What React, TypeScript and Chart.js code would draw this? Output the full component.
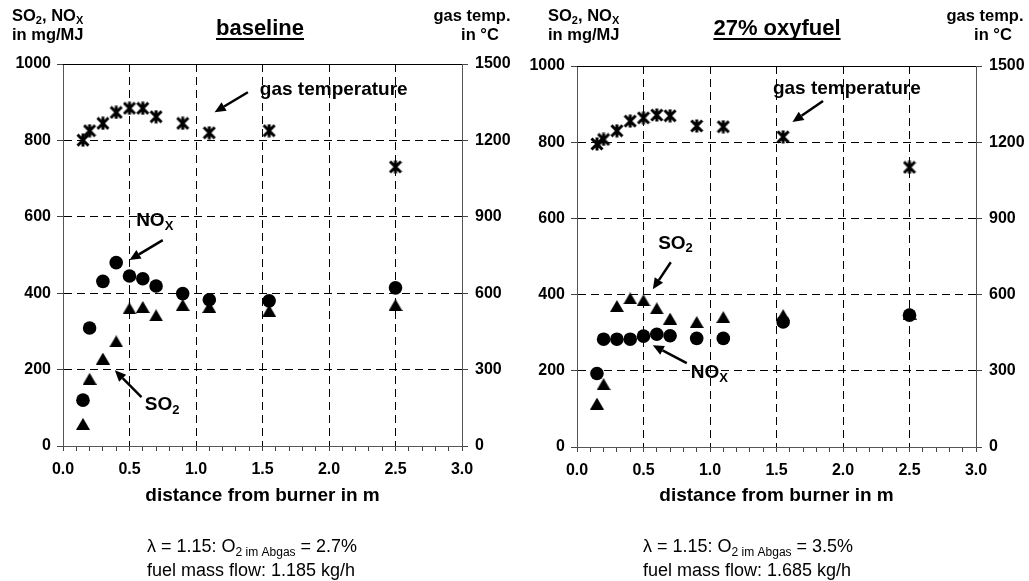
import React, { useEffect, useRef } from 'react';
import { Chart, registerables } from 'chart.js';
Chart.register(...registerables);

// ---------- data ----------
const distancesBaseline = [0.15, 0.2, 0.3, 0.4, 0.5, 0.6, 0.7, 0.9, 1.1, 1.55, 2.5];
const gasTempBaseline = [1201, 1238, 1267, 1310, 1326, 1326, 1293, 1267, 1230, 1238, 1096];
const noxBaseline = [120, 309, 431, 480, 445, 438, 419, 399, 383, 380, 414];
const so2Baseline = [58, 176, 229, 274, 360, 364, 342, 369, 364, 354, 369];

const distancesOxy = [0.15, 0.2, 0.3, 0.4, 0.5, 0.6, 0.7, 0.9, 1.1, 1.55, 2.5];
const gasTempOxy = [1193, 1211, 1245, 1283, 1296, 1307, 1304, 1264, 1261, 1221, 1101];
const noxOxy = [193, 283, 283, 283, 291, 296, 292, 285, 285, 328, 346];
const so2Oxy = [114, 165, 370, 390, 385, 364, 337, 328, 341, 346, 350];

const xTickMin = 0;
const xTickMax = 3;
const yLeftMax = 1000;
const yRightMax = 1500;

const FONT = '"Liberation Sans", Arial, Helvetica, sans-serif';

type Seg = { t: string; sub?: boolean };

function drawRich(
  ctx: CanvasRenderingContext2D,
  segs: Seg[],
  x: number,
  y: number,
  size: number,
  weight: string,
  family: string,
  align: 'left' | 'center' | 'right'
) {
  const main = `${weight} ${size}px ${family}`;
  const subSize = Math.round(size * 0.66);
  const subF = `${weight} ${subSize}px ${family}`;
  let total = 0;
  const widths = segs.map((s) => {
    ctx.font = s.sub ? subF : main;
    const w = ctx.measureText(s.t).width;
    total += w;
    return w;
  });
  let cx = align === 'left' ? x : align === 'center' ? x - total / 2 : x - total;
  const start = cx;
  ctx.textAlign = 'left';
  ctx.textBaseline = 'alphabetic';
  segs.forEach((s, i) => {
    ctx.font = s.sub ? subF : main;
    ctx.fillText(s.t, cx, s.sub ? y + size * 0.2 : y);
    cx += widths[i];
  });
  return { start, width: total };
}

function drawArrow(ctx: CanvasRenderingContext2D, x1: number, y1: number, x2: number, y2: number) {
  const ang = Math.atan2(y2 - y1, x2 - x1);
  const head = 11;
  const half = 5;
  const bx = x2 - Math.cos(ang) * head;
  const by = y2 - Math.sin(ang) * head;
  ctx.save();
  ctx.strokeStyle = '#000';
  ctx.fillStyle = '#000';
  ctx.lineWidth = 2.5;
  ctx.beginPath();
  ctx.moveTo(x1, y1);
  ctx.lineTo(bx, by);
  ctx.stroke();
  ctx.beginPath();
  ctx.moveTo(x2, y2);
  ctx.lineTo(bx + Math.sin(ang) * half, by - Math.cos(ang) * half);
  ctx.lineTo(bx - Math.sin(ang) * half, by + Math.cos(ang) * half);
  ctx.closePath();
  ctx.fill();
  ctx.restore();
}

function makeStar(): HTMLCanvasElement {
  const w = 14;
  const h = 14;
  const c = document.createElement('canvas');
  c.width = w;
  c.height = h;
  const g = c.getContext('2d')!;
  g.strokeStyle = '#000';
  g.lineWidth = 3;
  g.lineCap = 'butt';
  const m = 1.5;
  g.beginPath();
  g.moveTo(m, m);
  g.lineTo(w - m, h - m);
  g.moveTo(w - m, m);
  g.lineTo(m, h - m);
  g.moveTo(w / 2, 0.5);
  g.lineTo(w / 2, h - 0.5);
  g.stroke();
  return c;
}

function makeTriangle(): HTMLCanvasElement {
  const w = 14;
  const h = 12;
  const c = document.createElement('canvas');
  c.width = w;
  c.height = h;
  const g = c.getContext('2d')!;
  g.fillStyle = '#000';
  g.beginPath();
  g.moveTo(w / 2, 0);
  g.lineTo(w, h);
  g.lineTo(0, h);
  g.closePath();
  g.fill();
  return c;
}

type Annot = { segs: Seg[]; x: number; y: number; size: number };
type ArrowDef = { x1: number; y1: number; x2: number; y2: number };

interface PanelCfg {
  title: string;
  titleX: number;
  headerLeftX: number;
  gasX: number;
  inCX: number;
  area: { left: number; right: number; top: number; bottom: number };
  distances: number[];
  gasTemp: number[];
  nox: number[];
  so2: number[];
  texts: Annot[];
  arrows: ArrowDef[];
  bottomX: number;
  o2: string;
  flow: string;
}

const W = 514;
const H = 581;

const panels: PanelCfg[] = [
  {
    title: 'baseline',
    titleX: 260,
    headerLeftX: 12,
    gasX: 472,
    inCX: 480,
    area: { left: 63, right: 462, top: 64, bottom: 446 },
    distances: distancesBaseline,
    gasTemp: gasTempBaseline,
    nox: noxBaseline,
    so2: so2Baseline,
    texts: [
      { segs: [{ t: 'gas temperature' }], x: 1.48, y: 937, size: 19 },
      { segs: [{ t: 'NO' }, { t: 'X', sub: true }], x: 0.55, y: 594, size: 19 },
      { segs: [{ t: 'SO' }, { t: '2', sub: true }], x: 0.615, y: 112, size: 19 },
    ],
    arrows: [
      { x1: 1.39, y1: 926, x2: 1.14, y2: 874 },
      { x1: 0.75, y1: 539, x2: 0.5, y2: 487 },
      { x1: 0.59, y1: 128, x2: 0.39, y2: 198 },
    ],
    bottomX: 147,
    o2: '2.7%',
    flow: '1.185 kg/h',
  },
  {
    title: '27% oxyfuel',
    titleX: 262,
    headerLeftX: 33,
    gasX: 470,
    inCX: 478,
    area: { left: 62, right: 461, top: 66, bottom: 447 },
    distances: distancesOxy,
    gasTemp: gasTempOxy,
    nox: noxOxy,
    so2: so2Oxy,
    texts: [
      { segs: [{ t: 'gas temperature' }], x: 1.473, y: 945, size: 19 },
      { segs: [{ t: 'SO' }, { t: '2', sub: true }], x: 0.61, y: 538, size: 19 },
      { segs: [{ t: 'NO' }, { t: 'X', sub: true }], x: 0.855, y: 199, size: 19 },
    ],
    arrows: [
      { x1: 1.85, y1: 908, x2: 1.62, y2: 853 },
      { x1: 0.705, y1: 485, x2: 0.57, y2: 414 },
      { x1: 0.825, y1: 220, x2: 0.57, y2: 267 },
    ],
    bottomX: 128,
    o2: '3.5%',
    flow: '1.685 kg/h',
  },
];

function Panel({ cfg, offset }: { cfg: PanelCfg; offset: number }) {
  const ref = useRef<HTMLCanvasElement>(null);
  useEffect(() => {
    const star = makeStar();
    const tri = makeTriangle();
    const a = cfg.area;
    const decor = {
      id: 'decor' + offset,
      afterDraw(chart: any) {
        const ctx: CanvasRenderingContext2D = chart.ctx;
        const xs = chart.scales.x;
        const ys = chart.scales.y;
        const ca = chart.chartArea;
        ctx.save();
        ctx.fillStyle = '#000';
        // top border
        ctx.strokeStyle = '#000';
        ctx.lineWidth = 1;
        ctx.beginPath();
        ctx.moveTo(ca.left, Math.round(ca.top) + 0.5);
        ctx.lineTo(ca.right, Math.round(ca.top) + 0.5);
        ctx.stroke();
        // headers
        drawRich(ctx, [{ t: 'SO' }, { t: '2', sub: true }, { t: ', NO' }, { t: 'X', sub: true }], cfg.headerLeftX, 21, 16.5, 'bold', FONT, 'left');
        drawRich(ctx, [{ t: 'in mg/MJ' }], cfg.headerLeftX, 40, 16.5, 'bold', FONT, 'left');
        drawRich(ctx, [{ t: 'gas temp.' }], cfg.gasX, 21, 16.5, 'bold', FONT, 'center');
        drawRich(ctx, [{ t: 'in °C' }], cfg.inCX, 40, 16.5, 'bold', FONT, 'center');
        // title underlined
        const t = drawRich(ctx, [{ t: cfg.title }], cfg.titleX, 35, 22, 'bold', FONT, 'center');
        ctx.fillRect(t.start, 38, t.width, 2);
        // annotations
        cfg.texts.forEach((an) => {
          const px = xs.getPixelForValue(an.x);
          const py = ys.getPixelForValue(an.y) + an.size * 0.35;
          drawRich(ctx, an.segs, px, py, an.size, 'bold', FONT, 'left');
        });
        cfg.arrows.forEach((ar) => {
          drawArrow(ctx, xs.getPixelForValue(ar.x1), ys.getPixelForValue(ar.y1), xs.getPixelForValue(ar.x2), ys.getPixelForValue(ar.y2));
        });
        // bottom notes
        drawRich(
          ctx,
          [{ t: 'λ = 1.15: O' }, { t: '2 im Abgas', sub: true }, { t: ' = ' + cfg.o2 }],
          cfg.bottomX,
          552,
          18,
          'normal',
          FONT,
          'left'
        );
        drawRich(ctx, [{ t: 'fuel mass flow: ' + cfg.flow }], cfg.bottomX, 576, 18, 'normal', FONT, 'left');
        ctx.restore();
      },
    };

    const isMajor = (v: number) => Math.round(v * 10) % 5 === 0;
    const tickFont = { family: FONT, size: 16, weight: 'bold' as const };

    const chart = new Chart(ref.current!, {
      type: 'scatter',
      data: {
        datasets: [
          {
            label: 'gas temperature',
            data: cfg.distances.map((d, i) => ({ x: d, y: cfg.gasTemp[i] })),
            yAxisID: 'yT',
            pointStyle: star as any,
            pointRadius: 7,
            showLine: false,
          },
          {
            label: 'NOx',
            data: cfg.distances.map((d, i) => ({ x: d, y: cfg.nox[i] })),
            yAxisID: 'y',
            pointStyle: 'circle',
            pointRadius: 6.8,
            backgroundColor: '#000',
            borderColor: '#000',
            borderWidth: 0,
            showLine: false,
          },
          {
            label: 'SO2',
            data: cfg.distances.map((d, i) => ({ x: d, y: cfg.so2[i] })),
            yAxisID: 'y',
            pointStyle: tri as any,
            pointRadius: 7,
            showLine: false,
          },
        ],
      },
      options: {
        responsive: false,
        devicePixelRatio: 1,
        animation: false,
        events: [],
        layout: { padding: { top: a.top, left: 0, right: 0, bottom: 0 } },
        plugins: { legend: { display: false }, tooltip: { enabled: false }, title: { display: false } },
        scales: {
          x: {
            type: 'linear',
            position: 'bottom',
            min: xTickMin,
            max: xTickMax,
            afterFit: (s: any) => {
              s.height = H - a.bottom;
            },
            ticks: {
              stepSize: 0.1,
              maxTicksLimit: 40,
              autoSkip: false,
              maxRotation: 0,
              minRotation: 0,
              padding: 9,
              color: '#000',
              font: tickFont,
              callback: (v: any) => (isMajor(Number(v)) ? (Math.round(Number(v) * 10) / 10).toFixed(1) : ''),
            },
            grid: {
              color: (c: any) => {
                const r = Math.round(c.tick.value * 10);
                return r % 5 === 0 && r > 0 && r < 30 ? '#000' : 'rgba(0,0,0,0)';
              },
              tickColor: '#444',
              tickLength: 5,
              lineWidth: 1,
            },
            border: { display: true, color: '#555', width: 1, dash: [8, 5] },
            title: {
              display: true,
              text: 'distance from burner in m',
              color: '#000',
              font: { family: FONT, size: 19, weight: 'bold' },
              padding: { top: 0, bottom: 74 },
            },
          },
          y: {
            type: 'linear',
            position: 'left',
            min: 0,
            max: yLeftMax,
            afterFit: (s: any) => {
              s.width = a.left;
            },
            ticks: { stepSize: 200, color: '#000', font: tickFont, padding: 6, callback: (v: any) => String(v) },
            grid: {
              color: (c: any) => (c.tick.value > 0 && c.tick.value < yLeftMax ? '#000' : 'rgba(0,0,0,0)'),
              tickColor: '#444',
              tickLength: 6,
              lineWidth: 1,
            },
            border: { display: true, color: '#555', width: 1, dash: [8, 5] },
          },
          yT: {
            type: 'linear',
            position: 'right',
            min: 0,
            max: yRightMax,
            afterFit: (s: any) => {
              s.width = W - a.right;
            },
            ticks: { stepSize: 300, color: '#000', font: tickFont, padding: 7, callback: (v: any) => String(v) },
            grid: { drawOnChartArea: false, tickColor: '#444', tickLength: 6 },
            border: { display: true, color: '#555', width: 1 },
          },
        },
      },
      plugins: [decor],
    });
    return () => chart.destroy();
  }, []);
  return (
    <canvas
      ref={ref}
      width={W}
      height={H}
      style={{ position: 'absolute', left: offset, top: 0, width: W, height: H }}
    />
  );
}

export default function App() {
  return (
    <div style={{ position: 'fixed', left: 0, top: 0, width: 1029, height: 581, background: '#fff' }}>
      <Panel cfg={panels[0]} offset={0} />
      <Panel cfg={panels[1]} offset={515} />
    </div>
  );
}
